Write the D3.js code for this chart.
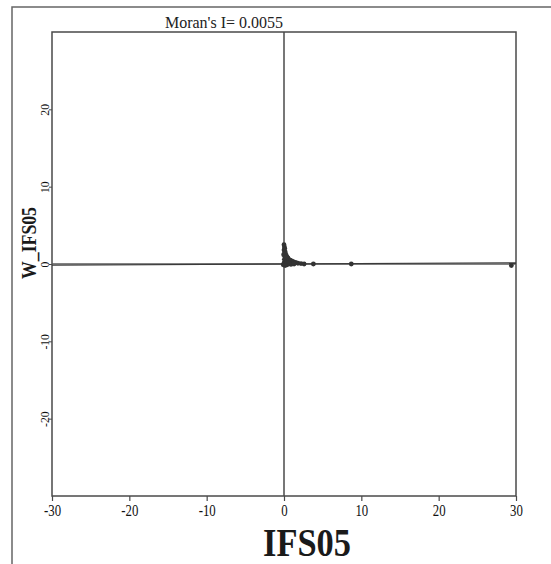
<!DOCTYPE html>
<html>
<head>
<meta charset="utf-8">
<script src="https://cdn.jsdelivr.net/npm/d3@7"></script>
<style>
  html, body { margin: 0; padding: 0; background: #fff; }
  svg { display: block; }
</style>
</head>
<body>
<svg id="chart" width="551" height="564"></svg>
<script>
// Moran scatter plot: standardized IFS05 vs its spatial lag W_IFS05
const moransI = 0.0055;
const xTicks = [-30, -20, -10, 0, 10, 20, 30];
const yTicks = [-20, -10, 0, 10, 20];
const ifs05 = [0.0, 0.05, 0.1, 0.0, 0.15, 0.05, 0.2, 0.3, 0.1, 0.4, 0.5, 0.2, 0.6, 0.8, 0.3, 1.0, 0.1, 1.2, 0.5, 1.5, 1.8, 0.0, 0.2, 0.7, 2.2, 2.6, 3.8, -0.1, 0.4, 0.9, 1.3, 0.05, -0.05, 0.25, 0.35, 0.6, 0.15, 8.7, 29.4];
const wIfs05 = [2.5, 2.2, 2.0, 1.8, 1.6, 1.4, 1.3, 1.1, 1.0, 0.9, 0.8, 0.7, 0.6, 0.5, 0.5, 0.4, 0.3, 0.3, 0.2, 0.2, 0.1, 0.1, 0.0, 0.05, 0.05, 0.0, 0.0, -0.1, -0.1, -0.05, 0.0, 0.6, 1.2, 0.9, 0.3, 0.15, -0.2, 0.0, -0.2];

const svg = d3.select("#chart");
const plot = { left: 52, right: 516, top: 32, bottom: 496 };
const ink = "#4a4a4a";
const fmt = d => String(d); // plain hyphen-minus

const x = d3.scaleLinear().domain([-30, 30]).range([plot.left, plot.right]);
const y = d3.scaleLinear().domain([-30, 30]).range([plot.bottom, plot.top]);

// outer frame (left and top edges)
svg.append("path")
  .attr("d", "M12,564 L12,7 L551,7")
  .attr("fill", "none").attr("stroke", "#666").attr("stroke-width", 1.5);

// plot box
svg.append("rect")
  .attr("x", plot.left).attr("y", plot.top)
  .attr("width", plot.right - plot.left).attr("height", plot.bottom - plot.top)
  .attr("fill", "none").attr("stroke", ink).attr("stroke-width", 1.5);

// reference lines through the origin
svg.append("line")
  .attr("x1", x(0)).attr("x2", x(0)).attr("y1", plot.top).attr("y2", plot.bottom)
  .attr("stroke", ink).attr("stroke-width", 1.5);
svg.append("line")
  .attr("x1", plot.left).attr("x2", plot.right).attr("y1", y(0)).attr("y2", y(0))
  .attr("stroke", "#5a5a5a").attr("stroke-width", 1.4);

// fitted line with slope = Moran's I
svg.append("line")
  .attr("x1", x(-30)).attr("y1", y(-30 * moransI))
  .attr("x2", x(30)).attr("y2", y(30 * moransI))
  .attr("stroke", "#3a3a3a").attr("stroke-width", 1.1);

// bottom axis
const xAxis = svg.append("g")
  .attr("transform", `translate(0,${plot.bottom})`)
  .call(d3.axisBottom(x).tickValues(xTicks).tickSize(5).tickSizeOuter(0).tickFormat(fmt));
xAxis.select(".domain").remove();
xAxis.selectAll("line").attr("stroke", ink).attr("stroke-width", 1.2);
xAxis.selectAll(".tick text")
  .attr("fill", "#111")
  .attr("y", 9)
  .attr("transform", "scale(0.8,1)")
  .style("font-family", "'Liberation Serif', serif")
  .style("font-size", "16px");

// left axis labels (rotated)
const yAxis = svg.append("g")
  .attr("transform", `translate(${plot.left},0)`)
  .call(d3.axisLeft(y).tickValues(yTicks).tickSize(3).tickSizeOuter(0).tickFormat(fmt));
yAxis.select(".domain").remove();
yAxis.selectAll("line").attr("stroke", ink);
yAxis.selectAll(".tick text")
  .attr("x", null).attr("dy", null)
  .attr("text-anchor", "middle")
  .attr("transform", "translate(-3,0) rotate(-90) scale(0.9,1)")
  .attr("fill", "#111")
  .style("font-family", "'Liberation Serif', serif")
  .style("font-size", "13px");

// points
svg.append("g").selectAll("circle")
  .data(ifs05.map((v, i) => [v, wIfs05[i]]))
  .join("circle")
  .attr("cx", d => x(d[0]))
  .attr("cy", d => y(d[1]))
  .attr("r", 2.4)
  .attr("fill", "#333");

// title
svg.append("text")
  .attr("x", 224).attr("y", 28)
  .attr("text-anchor", "middle")
  .style("font-family", "'Liberation Serif', serif")
  .style("font-size", "16px")
  .attr("fill", "#222")
  .text(`Moran's I= ${moransI.toFixed(4)}`);

// axis titles
svg.append("text")
  .attr("x", 307).attr("y", 556)
  .attr("text-anchor", "middle")
  .attr("textLength", 88).attr("lengthAdjust", "spacingAndGlyphs")
  .style("font-family", "'Liberation Serif', serif")
  .style("font-size", "40px").style("font-weight", "bold")
  .attr("fill", "#1a1a1a")
  .text("IFS05");

svg.append("text")
  .attr("transform", "translate(36,243) rotate(-90)")
  .attr("text-anchor", "middle")
  .attr("textLength", 72).attr("lengthAdjust", "spacingAndGlyphs")
  .style("font-family", "'Liberation Serif', serif")
  .style("font-size", "20px").style("font-weight", "bold")
  .attr("fill", "#1a1a1a")
  .text("W_IFS05");
</script>
</body>
</html>
